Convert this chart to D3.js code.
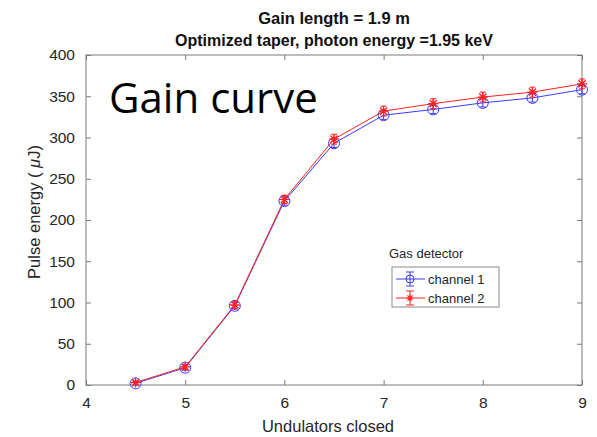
<!DOCTYPE html>
<html>
<head>
<meta charset="utf-8">
<script src="https://cdn.jsdelivr.net/npm/d3@7"></script>
<style>
  body { margin: 0; background: #fff; }
  svg text { font-family: "Liberation Sans", Arial, sans-serif; }
</style>
</head>
<body>
<div id="my_dataviz"></div>
<script>
// undulators closed
var undulators = [4.5, 5, 5.5, 6, 6.5, 7, 7.5, 8, 8.5, 9];
// pulse energy (uJ), gas detector channels
var channel1 = [2, 21, 96, 223, 293, 327, 334, 342, 348, 358];
var channel2 = [3, 22, 97, 225, 298, 332, 341, 349, 355, 365];
var err1 = [2, 3, 4, 5, 5, 5, 5, 5, 5, 5];
var err2 = [2, 3, 4, 5, 6, 6, 6, 6, 6, 6];
var xTicks = [4, 5, 6, 7, 8, 9];
var yTicks = [0, 50, 100, 150, 200, 250, 300, 350, 400];
var seriesNames = ["channel 1", "channel 2"];

var margin = {top: 55, right: 15, bottom: 52, left: 86},
    width = 597 - margin.left - margin.right,
    height = 437 - margin.top - margin.bottom;

var svg = d3.select("#my_dataviz")
  .append("svg")
    .attr("width", 597)
    .attr("height", 437)
  .append("g")
    .attr("transform", "translate(" + margin.left + "," + margin.top + ")");

var x = d3.scaleLinear().domain([4, 9]).range([0, width]);
var y = d3.scaleLinear().domain([0, 400]).range([height, 0]);

var axisColor = "#7a7a7a", textColor = "#262626";

// box
svg.append("rect")
  .attr("width", width).attr("height", height)
  .attr("fill", "none").attr("stroke", axisColor).attr("stroke-width", 1);

// x axis (bottom + top ticks, inward)
var xb = svg.append("g")
  .attr("transform", "translate(0," + height + ")")
  .call(d3.axisBottom(x).tickValues(xTicks).tickFormat(d3.format("d"))
    .tickSizeInner(-5).tickSizeOuter(0).tickPadding(12));
var xt = svg.append("g")
  .call(d3.axisTop(x).tickValues(xTicks).tickSizeInner(-5).tickSizeOuter(0).tickFormat(""));
// y axis (left + right)
var yl = svg.append("g")
  .call(d3.axisLeft(y).tickValues(yTicks).tickSizeInner(-5).tickSizeOuter(0).tickPadding(11));
var yr = svg.append("g")
  .attr("transform", "translate(" + width + ",0)")
  .call(d3.axisRight(y).tickValues(yTicks).tickSizeInner(-5).tickSizeOuter(0).tickFormat(""));

[xb, xt, yl, yr].forEach(function(g) {
  g.select(".domain").remove();
  g.selectAll("line").attr("stroke", axisColor);
  g.selectAll("text")
    .attr("fill", textColor)
    .style("font-size", "15.5px")
    .style("font-family", "Liberation Sans, Arial, sans-serif");
});

// titles
svg.append("text")
  .attr("x", width / 2).attr("y", 24 - margin.top)
  .attr("text-anchor", "middle")
  .attr("fill", "#111")
  .style("font-size", "16.5px").style("font-weight", "bold")
  .text("Gain length = 1.9 m");
svg.append("text")
  .attr("x", width / 2).attr("y", 46 - margin.top)
  .attr("text-anchor", "middle")
  .attr("fill", "#111")
  .style("font-size", "16px").style("font-weight", "bold")
  .text("Optimized taper, photon energy =1.95 keV");

// axis labels
svg.append("text")
  .attr("x", width / 2 - 6).attr("y", height + 47)
  .attr("text-anchor", "middle")
  .attr("fill", textColor)
  .style("font-size", "16.5px")
  .text("Undulators closed");

var yl_lab = svg.append("text")
  .attr("transform", "translate(" + (40 - margin.left) + "," + (212 - margin.top) + ") rotate(-90)")
  .attr("text-anchor", "middle")
  .attr("fill", textColor)
  .style("font-size", "16.5px");
yl_lab.append("tspan").text("Pulse energy (  ");
yl_lab.append("tspan").style("font-style", "italic").text("\u03bc");
yl_lab.append("tspan").text("J)");

// big label
svg.append("text")
  .attr("x", 109 - margin.left).attr("y", 113 - margin.top)
  .attr("fill", "#000")
  .style("font-family", "Open Sans, Noto Sans, sans-serif")
  .style("font-size", "42px")
  .text("Gain curve");

function data(vals, errs) {
  return undulators.map(function(u, i) { return {x: u, y: vals[i], e: errs[i]}; });
}
var d1 = data(channel1, err1), d2 = data(channel2, err2);

var line = d3.line().x(function(d) { return x(d.x); }).y(function(d) { return y(d.y); });

var starPath = "M-5,0L5,0M0,-5L0,5M-3.6,-3.6L3.6,3.6M-3.6,3.6L3.6,-3.6";

function drawErr(g, d, color) {
  var eb = g.selectAll(".eb").data(d).enter().append("g")
    .attr("stroke", color).attr("stroke-width", 1).attr("fill", "none");
  eb.append("line")
    .attr("x1", function(d) { return x(d.x); }).attr("x2", function(d) { return x(d.x); })
    .attr("y1", function(d) { return y(d.y - d.e); }).attr("y2", function(d) { return y(d.y + d.e); });
  eb.append("line")
    .attr("x1", function(d) { return x(d.x) - 3; }).attr("x2", function(d) { return x(d.x) + 3; })
    .attr("y1", function(d) { return y(d.y + d.e); }).attr("y2", function(d) { return y(d.y + d.e); });
  eb.append("line")
    .attr("x1", function(d) { return x(d.x) - 3; }).attr("x2", function(d) { return x(d.x) + 3; })
    .attr("y1", function(d) { return y(d.y - d.e); }).attr("y2", function(d) { return y(d.y - d.e); });
}

// channel 1 - blue circles
var g1 = svg.append("g");
g1.append("path").datum(d1).attr("d", line)
  .attr("fill", "none").attr("stroke", "#3a3aff").attr("stroke-width", 1);
drawErr(g1, d1, "#3a3aff");
g1.selectAll("circle").data(d1).enter().append("circle")
  .attr("cx", function(d) { return x(d.x); })
  .attr("cy", function(d) { return y(d.y); })
  .attr("r", 5.5)
  .attr("fill", "none").attr("stroke", "#3a3aff").attr("stroke-width", 1);

// channel 2 - red stars
var g2 = svg.append("g");
g2.append("path").datum(d2).attr("d", line)
  .attr("fill", "none").attr("stroke", "#ff2020").attr("stroke-width", 1);
drawErr(g2, d2, "#ff2020");
g2.selectAll(".star").data(d2).enter().append("path")
  .attr("class", "star")
  .attr("transform", function(d) { return "translate(" + x(d.x) + "," + y(d.y) + ")"; })
  .attr("d", starPath)
  .attr("fill", "none").attr("stroke", "#ff2020").attr("stroke-width", 1.3);

// legend
var lg = svg.append("g").attr("transform", "translate(" + (392 - margin.left) + "," + (267 - margin.top) + ")");
lg.append("text")
  .attr("x", -3).attr("y", -9)
  .attr("fill", textColor)
  .style("font-size", "13px")
  .text("Gas detector");
lg.append("rect")
  .attr("width", 107).attr("height", 40)
  .attr("fill", "#fff").attr("stroke", "#8a8a8a").attr("stroke-width", 1);
var colors = ["#3a3aff", "#ff2020"];
seriesNames.forEach(function(name, i) {
  var cy = 12 + i * 19, c = colors[i];
  var row = lg.append("g").attr("transform", "translate(0," + cy + ")");
  row.append("line").attr("x1", 4).attr("x2", 33).attr("y1", 0).attr("y2", 0)
    .attr("stroke", c).attr("stroke-width", 1);
  row.append("line").attr("x1", 18).attr("x2", 18).attr("y1", -7).attr("y2", 7)
    .attr("stroke", c).attr("stroke-width", 1);
  row.append("line").attr("x1", 14).attr("x2", 22).attr("y1", -7).attr("y2", -7)
    .attr("stroke", c).attr("stroke-width", 1);
  row.append("line").attr("x1", 14).attr("x2", 22).attr("y1", 7).attr("y2", 7)
    .attr("stroke", c).attr("stroke-width", 1);
  if (i === 0) {
    row.append("circle").attr("cx", 18).attr("cy", 0).attr("r", 4)
      .attr("fill", "none").attr("stroke", c).attr("stroke-width", 1);
  } else {
    row.append("path").attr("transform", "translate(18,0) scale(0.7)")
      .attr("d", starPath).attr("fill", "none").attr("stroke", c).attr("stroke-width", 1.5);
  }
  row.append("text").attr("x", 36).attr("y", 5)
    .attr("fill", textColor)
    .style("font-size", "13px")
    .text(name);
});
</script>
</body>
</html>
